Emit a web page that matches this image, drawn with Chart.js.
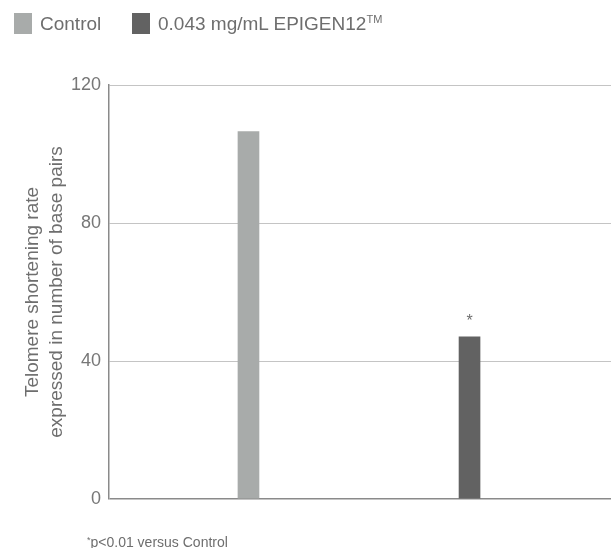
<!DOCTYPE html>
<html>
<head>
<meta charset="utf-8">
<script src="https://cdn.jsdelivr.net/npm/chart.js@4"></script>
<style>
  body { margin: 0; background: #fff; font-family: "Liberation Sans", Arial, sans-serif; color: #6e6e6e; }
  #wrap { position: relative; width: 611px; height: 548px; }
  #legend { position: absolute; left: 14px; top: 13px; font-size: 19px; }
  .item { position: absolute; top: 0; white-space: nowrap; }
  .box { position: absolute; left: 0; top: 0; width: 18px; height: 21px; }
  .lbl { position: absolute; top: 0; line-height: 22px; }
  .lbl sup { font-size: 11px; vertical-align: 7px; line-height: 0; }
  #note { position: absolute; left: 87px; top: 534px; font-size: 14px; white-space: nowrap; }
  #note sup { font-size: 9px; vertical-align: 4px; line-height: 0; }
</style>
</head>
<body>
<div id="wrap">
  <canvas id="myChart" width="611" height="548"></canvas>
  <div id="legend"></div>
  <div id="note"><sup>*</sup>p&lt;0.01 versus Control</div>
</div>
<script>
const categories = ['Control', '0.043 mg/mL EPIGEN12'];
const values = [106.5, 47];
const colors = ['#a8abaa', '#626262'];
const yTicks = [0, 40, 80, 120];
const marks = ['', '*'];

// legend as html so the TM can sit as superscript
const legendPos = [0, 118];
const legend = document.getElementById('legend');
categories.forEach((c, i) => {
  const item = document.createElement('div');
  item.className = 'item';
  item.style.left = legendPos[i] + 'px';
  item.innerHTML = '<div class="box" style="background:' + colors[i] + '"></div>' +
    '<div class="lbl" style="left:26px">' + c + (i == 1 ? '<sup>TM</sup>' : '') + '</div>';
  legend.appendChild(item);
});

const starPlugin = {
  id: 'stars',
  afterDatasetsDraw(chart) {
    const ctx = chart.ctx;
    const meta = chart.getDatasetMeta(0);
    ctx.save();
    ctx.fillStyle = '#6e6e6e';
    ctx.font = '16px "Liberation Sans", Arial, sans-serif';
    ctx.textAlign = 'center';
    ctx.textBaseline = 'middle';
    meta.data.forEach((bar, i) => {
      if (marks[i]) ctx.fillText(marks[i], bar.x, bar.y - 15);
    });
    ctx.restore();
  }
};

const ctx = document.getElementById('myChart');
const chart = new Chart(ctx, {
  type: 'bar',
  data: {
    datasets: [{
      label: 'Telomere shortening',
      data: values.map((v, i) => ({ x: i, y: v })),
      backgroundColor: colors,
      barThickness: 21,
      borderWidth: 0
    }]
  },
  options: {
    responsive: false,
    animation: false,
    devicePixelRatio: 1,
    layout: { padding: { top: 85, bottom: 49, right: 0, left: 0 } },
    plugins: {
      legend: { display: false },
      tooltip: { enabled: false }
    },
    scales: {
      x: {
        type: 'linear',
        min: -0.631,
        max: 1.64,
        offset: false,
        display: false
      },
      y: {
        min: 0,
        max: 120,
        afterBuildTicks: (axis) => { axis.ticks = yTicks.map(v => ({ value: v })); },
        afterFit: (axis) => { axis.width = 109; },
        ticks: {
          padding: 8,
          color: '#777',
          font: { family: '"Liberation Sans", Arial, sans-serif', size: 18 }
        },
        grid: {
          drawTicks: false,
          color: (c) => c.tick && c.tick.value === 0 ? '#8a8a8a' : '#c4c4c4',
          lineWidth: (c) => c.tick && c.tick.value === 0 ? 1.5 : 1
        },
        border: { color: '#8a8a8a', width: 1.5 },
        title: {
          display: true,
          text: ['Telomere shortening rate', 'expressed in number of base pairs'],
          color: '#6e6e6e',
          padding: { top: 21, bottom: 0 },
          font: { family: '"Liberation Sans", Arial, sans-serif', size: 19, lineHeight: 1.263 }
        }
      }
    }
  },
  plugins: [starPlugin]
});
</script>
</body>
</html>
